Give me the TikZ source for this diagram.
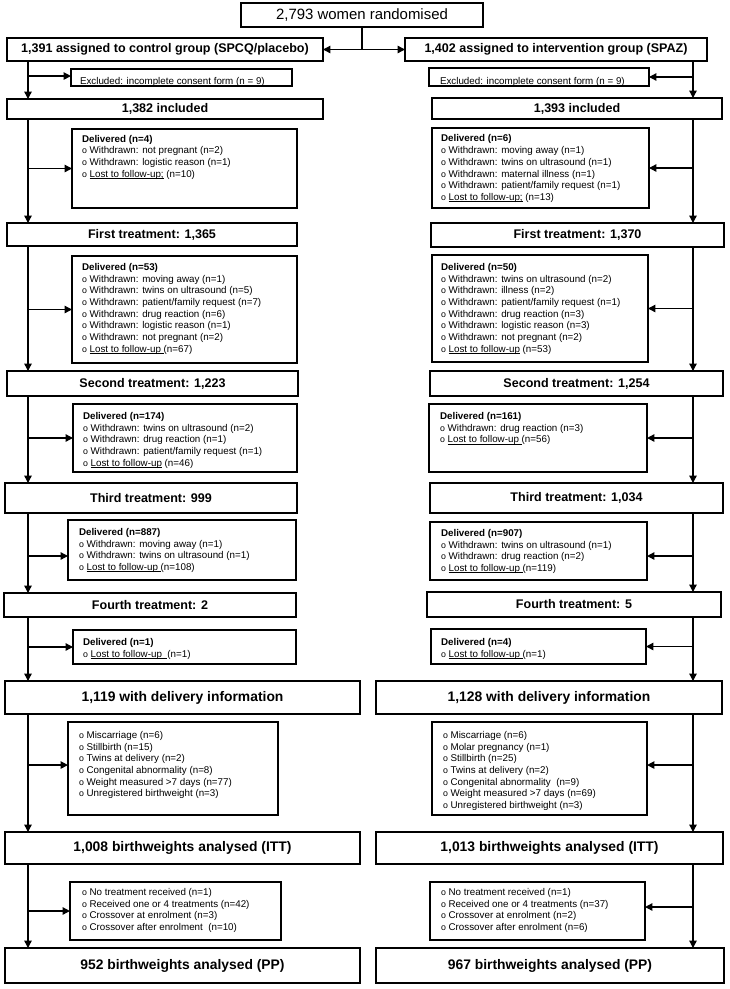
\documentclass[tikz,border=0pt]{standalone}
\usepackage{fontspec}
\setmainfont{Liberation Sans}
\usetikzlibrary{arrows.meta,shadows}
\lineskiplimit=-6pt
\newcommand{\boxat}[6]{\node[#1, minimum width={(#5-#3)*0.75pt}, minimum height={(#6-#4)*0.75pt}] (#2) at ({(#3+#5)/2},{(#4+#6)/2})}
\newcommand{\bu}{{\fontsize{6.6}{6}\selectfont o}\ }
\newcommand{\ltf}[1]{\setbox0=\hbox{Lost to follow-up#1}\rlap{\rule[-1.1pt]{\wd0}{0.55pt}}\box0\relax}
\tikzset{
  every node/.style={inner sep=0pt, outer sep=0pt},
  shad/.style={drop shadow={shadow xshift=0.9pt, shadow yshift=-0.9pt, fill=black, opacity=0.3}},
  mainbox/.style={draw, line width=1.1pt, fill=white, shad, align=center, font=\fontsize{9.4}{11}\selectfont\bfseries},
  bigbox/.style={mainbox, font=\fontsize{10.4}{12}\selectfont\bfseries},
  topbox/.style={mainbox, font=\fontsize{11.2}{13}\selectfont},
  listbox/.style={draw, line width=1.1pt, fill=white, shad},
  listtext/.style={anchor=north west, align=left, font=\fontsize{7.35}{8.78}\selectfont},
  exctext/.style={anchor=west, font=\fontsize{7.35}{8.78}\selectfont},
  conn/.style={line width=1pt},
  arr/.style={conn, -{Triangle[length=5.5pt, width=5.5pt]}},
}
\begin{document}
\begin{tikzpicture}[x=0.75pt, y=-0.75pt]
\useasboundingbox (0,0) rectangle (729,989);
\fill[white] (0,0) rectangle (729,989);
\coordinate (L) at (28,0);
\coordinate (R) at (693,0);
% top
\boxat{topbox}{top}{241}{3}{483}{27} {2,793 women randomised};
% left column main boxes
\boxat{mainbox}{g1}{7}{38}{323}{61} {1,391 assigned to control group (SPCQ/placebo)};
\boxat{mainbox}{i1}{7}{99}{323}{119} {1,382 included};
\boxat{mainbox}{t1}{7}{223}{297}{246} {First treatment: 1,365};
\boxat{mainbox}{t2}{7}{371}{298}{396} {Second treatment: 1,223};
\boxat{mainbox}{t3}{5}{483}{297}{513} {Third treatment: 999};
\boxat{mainbox}{t4}{4}{593}{296}{617} {Fourth treatment: 2};
\boxat{bigbox}{dl}{5}{681}{360}{714} {1,119 with delivery information};
\boxat{bigbox}{itt}{5}{832}{360}{864} {1,008 birthweights analysed (ITT)};
\boxat{bigbox}{pp}{5}{948}{360}{983} {952 birthweights analysed (PP)};
% right column main boxes
\boxat{mainbox}{g2}{405}{38}{707}{61} {1,402 assigned to intervention group (SPAZ)};
\boxat{mainbox}{i2}{432}{98}{722}{119} {1,393 included};
\boxat{mainbox}{s1}{431}{223}{724}{247} {First treatment: 1,370};
\boxat{mainbox}{s2}{430}{371}{723}{396} {Second treatment: 1,254};
\boxat{mainbox}{s3}{430}{483}{723}{513} {Third treatment: 1,034};
\boxat{mainbox}{s4}{427}{592}{721}{617} {Fourth treatment: 5};
\boxat{bigbox}{dl2}{376}{681}{722}{714} {1,128 with delivery information};
\boxat{bigbox}{itt2}{376}{832}{723}{864} {1,013 birthweights analysed (ITT)};
\boxat{bigbox}{pp2}{376}{948}{724}{983} {967 birthweights analysed (PP)};
% excluded boxes
\boxat{listbox}{xl}{71}{69}{292}{86} {};
\node[exctext] (xlt) at (80,82) {Excluded: incomplete consent form (n = 9)};
\boxat{listbox}{xr}{429}{68}{649}{86} {};
\node[exctext] (xrt) at (440,81.5) {Excluded: incomplete consent form (n = 9)};
% left list boxes
\boxat{listbox}{d1}{72}{129}{297}{208} {};
\node[listtext] (d1t) at (82,135) {\textbf{Delivered (n=4)}\\ \bu Withdrawn: not pregnant (n=2)\\ \bu Withdrawn: logistic reason (n=1)\\ \bu \ltf{;} (n=10)};
\boxat{listbox}{d2}{72}{256}{297}{363} {};
\node[listtext] (d2t) at (82,263.3) {\textbf{Delivered (n=53)}\\ \bu Withdrawn: moving away (n=1)\\ \bu Withdrawn: twins on ultrasound (n=5)\\ \bu Withdrawn: patient/family request (n=7)\\ \bu Withdrawn: drug reaction (n=6)\\ \bu Withdrawn: logistic reason (n=1)\\ \bu Withdrawn: not pregnant (n=2)\\ \bu \ltf{\ }(n=67)};
\boxat{listbox}{d3}{73}{404}{297}{472} {};
\node[listtext] (d3t) at (83,412.3) {\textbf{Delivered (n=174)}\\ \bu Withdrawn: twins on ultrasound (n=2)\\ \bu Withdrawn: drug reaction (n=1)\\ \bu Withdrawn: patient/family request (n=1)\\ \bu \ltf{} (n=46)};
\boxat{listbox}{d4}{68}{520}{296}{580} {};
\node[listtext] (d4t) at (79,528.3) {\textbf{Delivered (n=887)}\\ \bu Withdrawn: moving away (n=1)\\ \bu Withdrawn: twins on ultrasound (n=1)\\ \bu \ltf{\ }(n=108)};
\boxat{listbox}{d5}{73}{630}{296}{664} {};
\node[listtext] (d5t) at (83,638.3) {\textbf{Delivered (n=1)}\\ \bu \ltf{\ \ }(n=1)};
\boxat{listbox}{m1}{68}{722}{278}{815} {};
\node[listtext] (m1t) at (79,731.3) {\bu Miscarriage (n=6)\\ \bu Stillbirth (n=15)\\ \bu Twins at delivery (n=2)\\ \bu Congenital abnormality (n=8)\\ \bu Weight measured >7 days (n=77)\\ \bu Unregistered birthweight (n=3)};
\boxat{listbox}{n1}{70}{882}{281}{940} {};
\node[listtext] (n1t) at (82,888.3) {\bu No treatment received (n=1)\\ \bu Received one or 4 treatments (n=42)\\ \bu Crossover at enrolment (n=3)\\ \bu Crossover after enrolment\ \ (n=10)};
% right list boxes
\boxat{listbox}{e1}{432}{128}{649}{208} {};
\node[listtext] (e1t) at (441,134.8) {\textbf{Delivered (n=6)}\\ \bu Withdrawn: moving away (n=1)\\ \bu Withdrawn: twins on ultrasound (n=1)\\ \bu Withdrawn: maternal illness (n=1)\\ \bu Withdrawn: patient/family request (n=1)\\ \bu \ltf{;} (n=13)};
\boxat{listbox}{e2}{432}{255}{648}{362} {};
\node[listtext] (e2t) at (441,263.3) {\textbf{Delivered (n=50)}\\ \bu Withdrawn: twins on ultrasound (n=2)\\ \bu Withdrawn: illness (n=2)\\ \bu Withdrawn: patient/family request (n=1)\\ \bu Withdrawn: drug reaction (n=3)\\ \bu Withdrawn: logistic reason (n=3)\\ \bu Withdrawn: not pregnant (n=2)\\ \bu \ltf{} (n=53)};
\boxat{listbox}{e3}{429}{404}{647}{472} {};
\node[listtext] (e3t) at (440,412.3) {\textbf{Delivered (n=161)}\\ \bu Withdrawn: drug reaction (n=3)\\ \bu \ltf{\ }(n=56)};
\boxat{listbox}{e4}{430}{522}{647}{580} {};
\node[listtext] (e4t) at (441,529.3) {\textbf{Delivered (n=907)}\\ \bu Withdrawn: twins on ultrasound (n=1)\\ \bu Withdrawn: drug reaction (n=2)\\ \bu \ltf{\ }(n=119)};
\boxat{listbox}{e5}{431}{629}{646}{664} {};
\node[listtext] (e5t) at (441,638.3) {\textbf{Delivered (n=4)}\\ \bu \ltf{\ }(n=1)};
\boxat{listbox}{m2}{432}{722}{647}{815} {};
\node[listtext] (m2t) at (443,731.3) {\bu Miscarriage (n=6)\\ \bu Molar pregnancy (n=1)\\ \bu Stillbirth (n=25)\\ \bu Twins at delivery (n=2)\\ \bu Congenital abnormality\ \ (n=9)\\ \bu Weight measured >7 days (n=69)\\ \bu Unregistered birthweight (n=3)};
\boxat{listbox}{n2}{430}{882}{645}{940} {};
\node[listtext] (n2t) at (441,888.3) {\bu No treatment received (n=1)\\ \bu Received one or 4 treatments (n=37)\\ \bu Crossover at enrolment (n=2)\\ \bu Crossover after enrolment (n=6)};
% top connectors
\draw[arr] (top.south) |- (g1.east);
\draw[arr] (top.south) |- (g2.west);
% left trunk
\foreach \a/\b in {g1/i1, i1/t1, t1/t2, t2/t3, t3/t4, t4/dl, dl/itt, itt/pp}
  \draw[arr] (\a.south -| L) -- (\b.north -| L);
% right trunk
\foreach \a/\b in {g2/i2, i2/s1, s1/s2, s2/s3, s3/s4, s4/dl2, dl2/itt2, itt2/pp2}
  \draw[arr] (\a.south -| R) -- (\b.north -| R);
% left branches
\coordinate (xla) at ([yshift=1.1pt]xl.west);
\coordinate (d4a) at ([yshift=-4.5pt]d4.west);
\coordinate (m1a) at ([yshift=2.6pt]m1.west);
\draw[arr] (L |- xla) -- (xla);
\draw[arr] (L |- d1.west) -- (d1.west);
\draw[arr] (L |- d2.west) -- (d2.west);
\draw[arr] (L |- d3.west) -- (d3.west);
\draw[arr] (L |- d4a) -- (d4a);
\draw[arr] (L |- d5.west) -- (d5.west);
\draw[arr] (L |- m1a) -- (m1a);
\draw[arr] (L |- n1.west) -- (n1.west);
% right branches
\coordinate (e4a) at ([yshift=-3.75pt]e4.east);
\coordinate (m2a) at ([yshift=2.6pt]m2.east);
\coordinate (n2a) at ([yshift=3pt]n2.east);
\draw[arr] (R |- xr.east) -- (xr.east);
\draw[arr] (R |- e1.east) -- (e1.east);
\draw[arr] (R |- e2.east) -- (e2.east);
\draw[arr] (R |- e3.east) -- (e3.east);
\draw[arr] (R |- e4a) -- (e4a);
\draw[arr] (R |- e5.east) -- (e5.east);
\draw[arr] (R |- m2a) -- (m2a);
\draw[arr] (R |- n2a) -- (n2a);
\end{tikzpicture}
\end{document}
